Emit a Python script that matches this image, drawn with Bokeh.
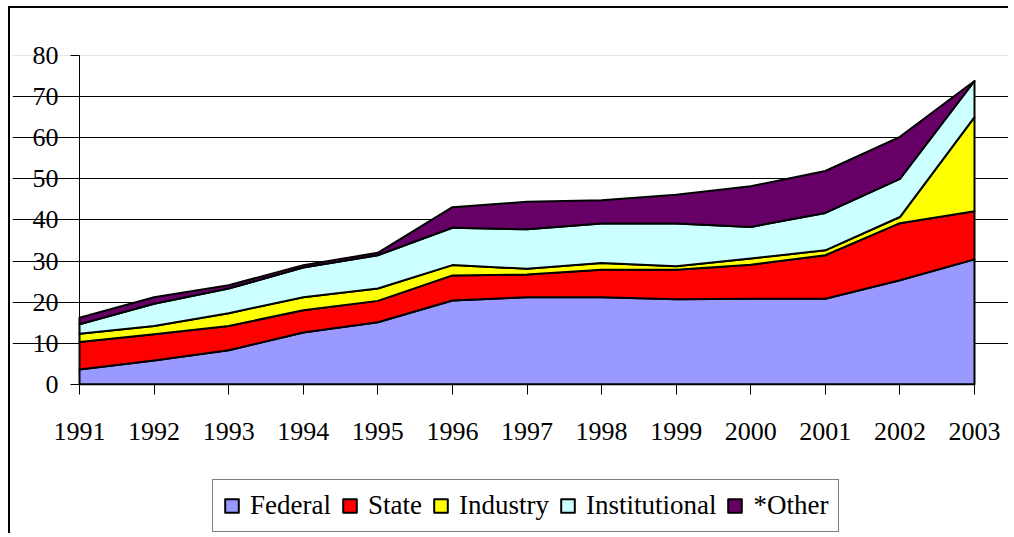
import numpy as np
from bokeh.plotting import figure
from bokeh.models import FixedTicker, Legend, LegendItem, Range1d, Grid
from bokeh.embed import file_html
from bokeh.resources import INLINE

years = [1991, 1992, 1993, 1994, 1995, 1996, 1997, 1998, 1999, 2000, 2001, 2002, 2003]
federal = [3.6, 5.8, 8.3, 12.6, 15.1, 20.4, 21.2, 21.2, 20.7, 20.8, 20.8, 25.3, 30.4]
state = [6.7, 6.4, 5.9, 5.4, 5.2, 6.1, 5.5, 6.7, 7.2, 8.3, 10.6, 13.9, 11.7]
industry = [2.0, 2.0, 3.1, 3.2, 3.0, 2.5, 1.4, 1.6, 0.8, 1.5, 1.2, 1.5, 22.9]
institutional = [2.3, 5.4, 6.0, 7.2, 8.1, 9.1, 9.6, 9.6, 10.4, 7.7, 9.1, 9.3, 8.8]
other = [1.6, 1.6, 0.8, 0.6, 0.6, 5.0, 6.7, 5.7, 7.0, 9.9, 10.2, 10.2, 0.0]

series_names = ["Federal", "State", "Industry", "Institutional", "*Other"]
series_values = [federal, state, industry, institutional, other]
colors = ["#9999FF", "#FF0000", "#FFFF00", "#CCFFFF", "#660066"]
y_ticks = [0, 10, 20, 30, 40, 50, 60, 70, 80]

FONT = "Liberation Serif"

p = figure(width=1000, height=527, output_backend="svg", toolbar_location=None,
           x_range=Range1d(1991 - 0.8984, 2003 + 0.4559), y_range=Range1d(-36.3, 90.95),
           min_border_left=2, min_border_top=2, min_border_right=2,
           min_border_bottom=2)
p.outline_line_color = None
p.background_fill_color = "white"
p.border_fill_color = "white"
p.styles = {"margin-left": "8px", "margin-top": "6px",
            "border-left": "2px solid black", "border-top": "2px solid black"}

x = np.array(years, dtype=float)
bottom = np.zeros(len(years))
items = []
for name, vals, col in zip(series_names, series_values, colors):
    top = bottom + np.array(vals, dtype=float)
    xs = np.concatenate([x, x[::-1]])
    ys = np.concatenate([top, bottom[::-1]])
    r = p.patch(xs, ys, fill_color=col, line_color="black", line_width=2,
                line_join="round")
    items.append(LegendItem(label=name, renderers=[r]))
    bottom = top

# grid
p.xgrid.visible = False
p.ygrid.ticker = FixedTicker(ticks=y_ticks[1:-1])
p.ygrid.grid_line_color = "black"
p.ygrid.grid_line_width = 1
p.ygrid.bounds = (years[0], years[-1])
p.ygrid.level = "underlay"
top_grid = Grid(dimension=1, ticker=FixedTicker(ticks=[y_ticks[-1]]),
                grid_line_color="#E6E6E6", grid_line_width=1,
                bounds=(years[0], years[-1]), level="underlay")
p.add_layout(top_grid)

# axes
p.xaxis.ticker = FixedTicker(ticks=years)
p.xaxis.major_label_overrides = {y: str(y) for y in years}
p.xaxis.fixed_location = 0
p.xaxis.bounds = (years[0], years[-1])
p.yaxis.ticker = FixedTicker(ticks=y_ticks)
p.yaxis.fixed_location = years[0]
p.yaxis.bounds = (0, 80)
for ax in (p.xaxis[0], p.yaxis[0]):
    ax.axis_line_color = "black"
    ax.axis_line_width = 1
    ax.major_tick_line_color = "black"
    ax.minor_tick_line_color = None
    ax.major_tick_in = 0
    ax.major_label_text_font = FONT
    ax.major_label_text_font_size = "26px"
    ax.major_label_text_color = "black"
p.xaxis.major_tick_out = 10
p.xaxis.major_label_standoff = 29
p.yaxis.major_tick_out = 9
p.yaxis.major_label_standoff = 12

legend = Legend(items=items, orientation="horizontal", location=(200, 1))
legend.label_text_font = FONT
legend.label_text_font_size = "27px"
legend.label_text_color = "black"
legend.glyph_width = 17
legend.glyph_height = 17
legend.label_standoff = 10
legend.spacing = 10
legend.padding = 10
legend.margin = 0
legend.border_line_color = "black"
legend.border_line_width = 1
legend.background_fill_color = "white"
legend.background_fill_alpha = 1
p.add_layout(legend)

open("out.html", "w").write(file_html(p, INLINE))
